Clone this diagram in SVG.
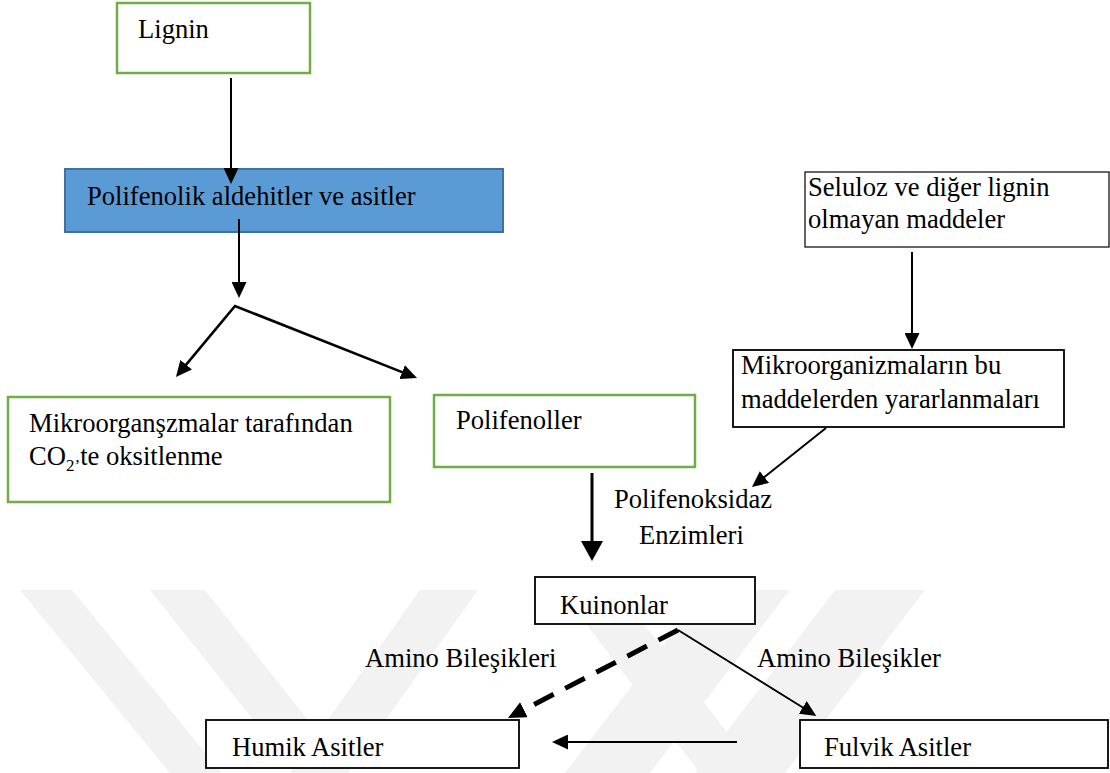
<svg xmlns="http://www.w3.org/2000/svg" width="1110" height="773" viewBox="0 0 1110 773">
<style>
text{font-family:"Liberation Serif","Times New Roman",serif;font-size:26.6px;fill:#000}
.g{fill:#fff;stroke:#70ad47;stroke-width:2.5}
.b{fill:#fff;stroke:#000;stroke-width:1.8}
.thin{fill:#fff;stroke:#000;stroke-width:1.2}
.blue{fill:#5b9bd5;stroke:#41719c;stroke-width:2}
.ln{fill:none;stroke:#000}
.wm{fill:#f2f2f2}
</style>
<defs>
<marker id="ah" markerUnits="userSpaceOnUse" markerWidth="16" markerHeight="15" viewBox="0 0 16 15" refX="2" refY="7.5" orient="auto-start-reverse"><path d="M0,0 L16,7.5 L0,15 z" fill="#000"/></marker>
<marker id="ahb" markerUnits="userSpaceOnUse" markerWidth="20" markerHeight="22" viewBox="0 0 20 22" refX="2" refY="11" orient="auto"><path d="M0,0 L20,11 L0,22 z" fill="#000"/></marker>
<marker id="ahd" markerUnits="userSpaceOnUse" markerWidth="18" markerHeight="17" viewBox="0 0 18 17" refX="2" refY="8.5" orient="auto"><path d="M0,0 L18,8.5 L0,17 z" fill="#000"/></marker>
</defs>
<rect width="1110" height="773" fill="#fff"/>
<g id="watermark">
<polygon class="wm" points="20,590 72,590 222,773 170,773"/>
<polygon class="wm" points="150,590 205,590 350,773 295,773"/>
<polygon class="wm" points="420,590 478,590 348,773 290,773"/>
<polygon class="wm" points="560,590 618,590 758,773 700,773"/>
<polygon class="wm" points="705,590 790,590 650,773 565,773"/>
<polygon class="wm" points="835,590 925,590 785,773 695,773"/>
</g>
<g id="lignin"><rect class="g" x="117" y="3" width="193" height="70"/><text x="138" y="38">Lignin</text></g>
<g id="polifenolik"><rect class="blue" x="65" y="169" width="438" height="63"/><text x="87" y="205">Polifenolik aldehitler ve asitler</text></g>
<g id="oksitlenme"><rect class="g" x="8" y="397" width="382" height="105"/><text x="29" y="432">Mikroorganşzmalar tarafından</text><text x="29" y="465">CO<tspan font-size="17" dy="6">2’</tspan><tspan dy="-6">te oksitlenme</tspan></text></g>
<g id="polifenoller"><rect class="g" x="434" y="395" width="261" height="72"/><text x="456" y="429">Polifenoller</text></g>
<g id="seluloz"><rect class="thin" x="805" y="172" width="304" height="75"/><text x="808" y="196">Seluloz ve diğer lignin</text><text x="808" y="228">olmayan maddeler</text></g>
<g id="mikroorganizmalar"><rect class="b" x="733" y="350" width="331" height="77"/><text x="741" y="374">Mikroorganizmaların bu</text><text x="741" y="408">maddelerden yararlanmaları</text></g>
<g id="enzim-label"><text x="614" y="508">Polifenoksidaz</text><text x="639" y="544">Enzimleri</text></g>
<g id="kuinonlar"><rect class="b" x="535" y="577" width="220" height="47"/><text x="560" y="614">Kuinonlar</text></g>
<g id="amino-labels"><text x="365" y="667">Amino Bileşikleri</text><text x="757" y="667">Amino Bileşikler</text></g>
<g id="humik"><rect class="b" x="206" y="720" width="313" height="48"/><text x="232" y="756">Humik Asitler</text></g>
<g id="fulvik"><rect class="b" x="800" y="720" width="308" height="48"/><text x="824" y="756">Fulvik Asitler</text></g>
<g id="connectors">
<line class="ln" style="stroke-width:2" x1="231" y1="78" x2="231" y2="170" marker-end="url(#ah)"/>
<line class="ln" style="stroke-width:2" x1="239" y1="219" x2="239" y2="284" marker-end="url(#ah)"/>
<path class="ln" style="stroke-width:2.6" d="M184.9,366.2 L235,306 L404,372.9" marker-start="url(#ah)" marker-end="url(#ah)"/>
<line class="ln" style="stroke-width:2" x1="912" y1="252" x2="912" y2="335" marker-end="url(#ah)"/>
<line class="ln" style="stroke-width:2" x1="826" y1="428" x2="762.9" y2="478.3" marker-end="url(#ah)"/>
<line class="ln" style="stroke-width:3" x1="592" y1="473" x2="592" y2="543" marker-end="url(#ahb)"/>
<line class="ln" style="stroke-width:5;stroke-dasharray:22,13" x1="678" y1="630" x2="522.2" y2="710.6" marker-end="url(#ahd)"/>
<line class="ln" style="stroke-width:1.8" x1="678" y1="630" x2="804.4" y2="708.5" marker-end="url(#ah)"/>
<line class="ln" style="stroke-width:1.8" x1="737" y1="742" x2="566" y2="742" marker-end="url(#ah)"/>
</g>
</svg>
